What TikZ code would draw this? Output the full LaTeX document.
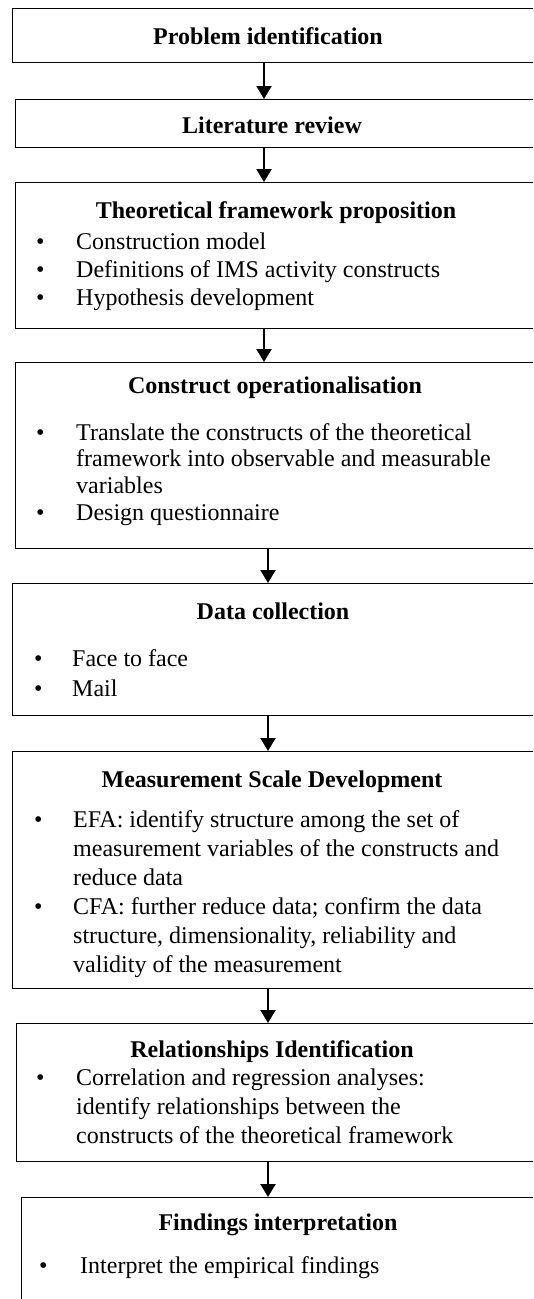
\documentclass[tikz,border=0pt]{standalone}
\usepackage{fontspec}
\setmainfont{Liberation Serif}
\usepackage{tikz}
\usetikzlibrary{arrows.meta,positioning}

\begin{document}
\begin{tikzpicture}[
    x=1pt, y=-1pt,
    stage/.style={draw, line width=1.4pt, anchor=north west, inner sep=0pt},
    head/.style={anchor=base, inner sep=0pt, font=\fontsize{24}{28}\selectfont\bfseries},
    items/.style={anchor=base west, inner sep=0pt, font=\fontsize{24}{#1}\selectfont},
    flow/.style={-{Triangle[width=15pt,length=13pt]}, line width=2.2pt}
]
    \useasboundingbox (0,0) rectangle (533,1299);
    \clip (0,0) rectangle (533,1299);
    \coordinate (spineA) at (264,0);
    \coordinate (spineB) at (268,0);

    \node[stage, minimum width=528pt, minimum height=54pt] (prob) at (12,8) {};
    \node[head] (prob-head) at (268,44) {Problem identification};

    \node[stage, minimum width=525pt, minimum height=48pt] (lit) at (15,99) {};
    \node[head] (lit-head) at (272,133) {Literature review};

    \node[stage, minimum width=525pt, minimum height=146pt] (theo) at (15,182) {};
    \node[head] (theo-head) at (276,218) {Theoretical framework proposition};
    \node[items=28] (theo-list) at (36,249) {\begin{tabular}[t]{@{}p{40pt}@{}l@{}}
        \textbullet & Construction model\\
        \textbullet & Definitions of IMS activity constructs\\
        \textbullet & Hypothesis development
    \end{tabular}};

    \node[stage, minimum width=525pt, minimum height=186pt] (oper) at (15,362) {};
    \node[head] (oper-head) at (275,393) {Construct operationalisation};
    \node[items=26.7] (oper-list) at (36,440) {\begin{tabular}[t]{@{}p{40pt}@{}l@{}}
        \textbullet & Translate the constructs of the theoretical\\
        & framework into observable and measurable\\
        & variables\\
        \textbullet & Design questionnaire
    \end{tabular}};

    \node[stage, minimum width=528pt, minimum height=132pt] (coll) at (12,583) {};
    \node[head] (coll-head) at (273,619) {Data collection};
    \node[items=30] (coll-list) at (34,666) {\begin{tabular}[t]{@{}p{38pt}@{}l@{}}
        \textbullet & Face to face\\
        \textbullet & Mail
    \end{tabular}};

    \node[stage, minimum width=528pt, minimum height=237pt] (scale) at (12,751) {};
    \node[head] (scale-head) at (272,787) {Measurement Scale Development};
    \node[items=29] (scale-list) at (34,827) {\begin{tabular}[t]{@{}p{39pt}@{}l@{}}
        \textbullet & EFA: identify structure among the set of\\
        & measurement variables of the constructs and\\
        & reduce data\\
        \textbullet & CFA: further reduce data; confirm the data\\
        & structure, dimensionality, reliability and\\
        & validity of the measurement
    \end{tabular}};

    \node[stage, minimum width=524pt, minimum height=138pt] (rel) at (16,1023) {};
    \node[head] (rel-head) at (272,1057) {Relationships Identification};
    \node[items=29] (rel-list) at (36,1085) {\begin{tabular}[t]{@{}p{40pt}@{}l@{}}
        \textbullet & Correlation and regression analyses:\\
        & identify relationships between the\\
        & constructs of the theoretical framework
    \end{tabular}};

    \node[stage, minimum width=519pt, minimum height=130pt] (find) at (21,1197) {};
    \node[head] (find-head) at (278,1230) {Findings interpretation};
    \node[items=29] (find-list) at (39,1273) {\begin{tabular}[t]{@{}p{41pt}@{}l@{}}
        \textbullet & Interpret the empirical findings
    \end{tabular}};

    \draw[flow] (prob.south -| spineA) -- (lit.north -| spineA);
    \draw[flow] (lit.south -| spineA) -- (theo.north -| spineA);
    \draw[flow] (theo.south -| spineA) -- (oper.north -| spineA);
    \draw[flow] (oper.south -| spineB) -- (coll.north -| spineB);
    \draw[flow] (coll.south -| spineB) -- (scale.north -| spineB);
    \draw[flow] (scale.south -| spineB) -- (rel.north -| spineB);
    \draw[flow] (rel.south -| spineB) -- (find.north -| spineB);
\end{tikzpicture}
\end{document}
